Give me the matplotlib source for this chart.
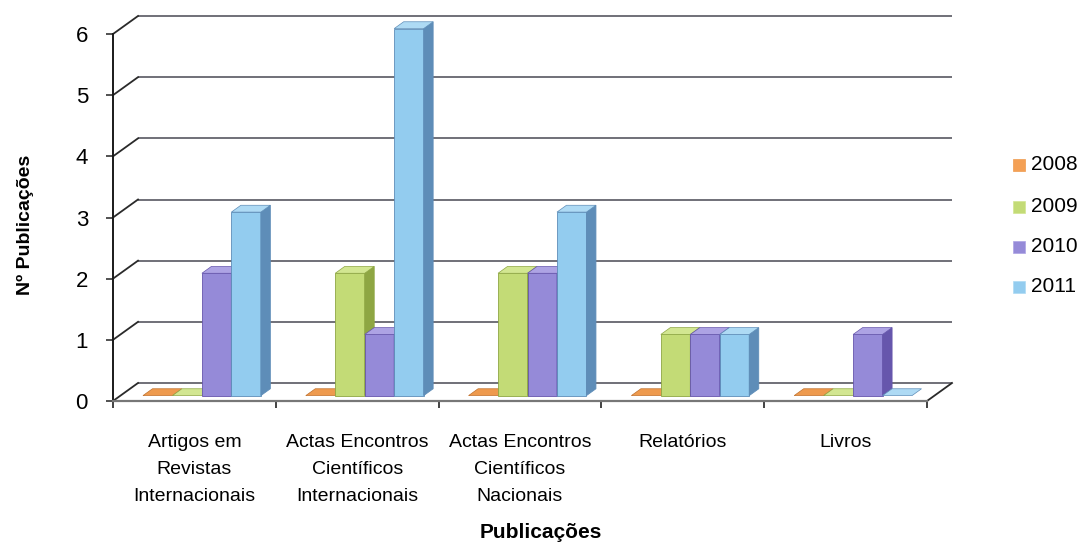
import matplotlib
matplotlib.use("Agg")
import matplotlib.pyplot as plt
from matplotlib.patches import Polygon, Rectangle

categories = ["Artigos em\nRevistas\nInternacionais",
              "Actas Encontros\nCientíficos\nInternacionais",
              "Actas Encontros\nCientíficos\nNacionais",
              "Relatórios",
              "Livros"]
series = ["2008", "2009", "2010", "2011"]
v2008 = [0, 0, 0, 0, 0]
v2009 = [0, 2, 2, 1, 0]
v2010 = [2, 1, 2, 1, 1]
v2011 = [3, 6, 3, 1, 0]
values = [v2008, v2009, v2010, v2011]
yticks = [0, 1, 2, 3, 4, 5, 6]

front_cols = ["#F4A055", "#C3DB76", "#958AD8", "#93CCEF"]
top_cols = ["#EE9A4E", "#D2E691", "#ADA3E4", "#AEDAF4"]
side_cols = ["#C0702C", "#8EA643", "#6656AC", "#5E8DB8"]

plt.rcParams['font.family'] = ['Liberation Sans', 'DejaVu Sans']

W, H = 1078, 546
fig = plt.figure(figsize=(W / 100, H / 100), dpi=100)
x0, x1, ytop, ybot = 113, 927, 34, 401
ax = fig.add_axes([x0 / W, (H - ybot) / H, (x1 - x0) / W, (ybot - ytop) / H])
ncat = len(categories)
ymax = max(yticks)
ax.set_xlim(0, ncat)
ax.set_ylim(0, ymax)

# depth offsets (data units)
DX = 25 / ((x1 - x0) / ncat)
DY = 18 / ((ybot - ytop) / ymax)

grid_c = "#707078"
for v in yticks:
    ax.plot([DX, ncat + DX], [v + DY, v + DY], color=grid_c, lw=1.4,
            clip_on=False, zorder=1, solid_capstyle='butt')
    ax.plot([0, DX], [v, v + DY], color="#2A2A2A", lw=1.3, clip_on=False, zorder=1)
ax.plot([ncat, ncat + DX], [0, DY], color="#2A2A2A", lw=1.3, clip_on=False, zorder=1)

# bars
bw = 0.181
d0, d1 = 0.30, 0.68
nser = len(series)
for i in range(ncat):
    for j in range(nser):
        h = values[j][i]
        xl = i + 0.5 - nser * bw / 2 + j * bw + d0 * DX
        yb = d0 * DY
        xr = xl + bw
        ddx = (d1 - d0) * DX
        ddy = (d1 - d0) * DY
        yt = yb + h
        if h > 0:
            ax.add_patch(Polygon([[xl, yb], [xr, yb], [xr, yt], [xl, yt]], closed=True,
                                 facecolor=front_cols[j], edgecolor=side_cols[j],
                                 lw=0.6, zorder=3, clip_on=False))
            ax.add_patch(Polygon([[xr, yb], [xr + ddx, yb + ddy], [xr + ddx, yt + ddy], [xr, yt]],
                                 closed=True, facecolor=side_cols[j], edgecolor=side_cols[j],
                                 lw=0.6, zorder=3, clip_on=False))
        ax.add_patch(Polygon([[xl, yt], [xr, yt], [xr + ddx, yt + ddy], [xl + ddx, yt + ddy]],
                             closed=True, facecolor=top_cols[j], edgecolor=side_cols[j],
                             lw=0.5, zorder=3, clip_on=False))

# axes styling
for s in ["top", "right"]:
    ax.spines[s].set_visible(False)
ax.spines["left"].set_color("#1A1A1A")
ax.spines["left"].set_linewidth(1.4)
ax.spines["bottom"].set_color("#777777")
ax.spines["bottom"].set_linewidth(1.6)
ax.set_facecolor("none")
ax.set_yticks(yticks)
ax.set_yticklabels([str(v) for v in yticks], fontsize=16)
ax.tick_params(axis='y', length=5, width=1.2, color="#333333", pad=13)
ax.set_xticks(range(ncat + 1))
ax.set_xticklabels([])
ax.tick_params(axis='x', which='major', length=5, width=1.2, color="#222222")
ax.set_xticks([i + 0.5 for i in range(ncat)], minor=True)
ax.set_xticklabels(categories, minor=True, fontsize=14, linespacing=1.75)
ax.tick_params(axis='x', which='minor', length=0, pad=24)

ax.set_ylabel("Nº Publicações", fontsize=14, fontweight='bold')
ax.yaxis.set_label_coords(-(x0 - 25) / (x1 - x0), (ybot - 225) / (ybot - ytop))
ax.yaxis.label.set_verticalalignment('center')
ax.set_xlabel("Publicações", fontsize=15, fontweight='bold')
ax.xaxis.set_label_coords((541 - x0) / (x1 - x0), -(533 - ybot) / (ybot - ytop))
ax.xaxis.label.set_verticalalignment('center')

# legend
leg_y = [165, 207, 247, 287]
for k, name in enumerate(series):
    yc = leg_y[k]
    fig.patches.append(Rectangle((1013 / W, (H - yc - 6) / H), 12 / W, 12 / H,
                                 transform=fig.transFigure, facecolor=front_cols[k],
                                 edgecolor=top_cols[k], lw=0.5))
    fig.text(1031 / W, (H - yc) / H, name, fontsize=15, va='center', ha='left')

fig.savefig("out.png", dpi=100)
